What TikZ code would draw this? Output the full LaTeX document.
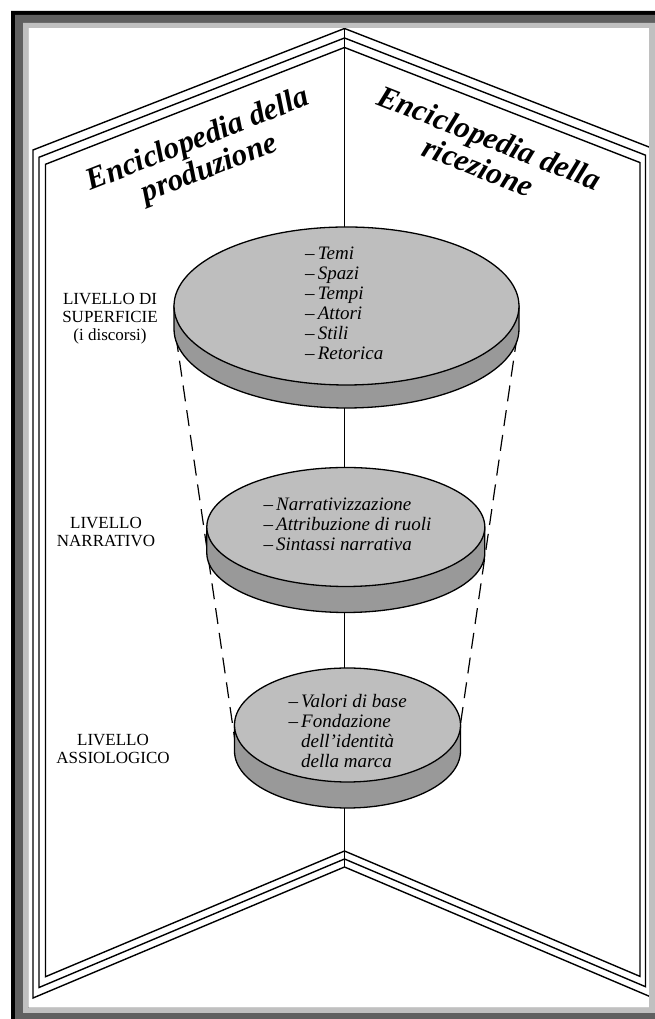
\documentclass[tikz,border=0pt]{standalone}
\usepackage{fontspec}
\setmainfont{Liberation Serif}
\definecolor{darkframe}{HTML}{606060}
\definecolor{lightframe}{HTML}{C0C0C0}
\definecolor{disctop}{HTML}{BEBEBE}
\definecolor{discband}{HTML}{999999}
\tikzset{
  panel/.style={line width=1.4pt, line join=miter},
  axisline/.style={line width=1.9pt},
  dashline/.style={line width=1.2pt, dash pattern=on 16pt off 9pt},
  discedge/.style={line width=1.3pt},
  titletext/.style={font=\fontsize{31}{31}\selectfont\bfseries\itshape, align=center, inner sep=0pt},
  leveltext/.style={font=\fontsize{17}{18}\selectfont, align=center, inner sep=0pt},
  disctext/.style={font=\fontsize{19}{20}\selectfont\itshape, align=left, inner sep=0pt, anchor=west},
}
\newcommand{\mydisc}[5]{%
  \filldraw[discedge, fill=discband] (#1-#4,#2) -- (#1-#4,#3)
    arc[start angle=180, end angle=360, x radius=#4pt, y radius=#5pt] -- (#1+#4,#2) -- cycle;
  \filldraw[discedge, fill=disctop] (#1,#2) ellipse [x radius=#4pt, y radius=#5pt];
}
\begin{document}
\begin{tikzpicture}[x=1pt,y=1pt]
\useasboundingbox (0,0) rectangle (655,1019);
\fill[white] (0,0) rectangle (655,1019);

% panel points
\coordinate (top0) at (344.5,990.5);
\coordinate (top1) at (344.5,981);
\coordinate (top2) at (344.5,971.5);
\coordinate (bot0) at (344.5,152);
\coordinate (bot1) at (344.5,160);
\coordinate (bot2) at (344.5,168);
\coordinate (lt0) at (33,869);
\coordinate (lt1) at (39,861.7);
\coordinate (lt2) at (45.5,854.7);
\coordinate (lb0) at (33,21);
\coordinate (lb1) at (39,31.5);
\coordinate (lb2) at (45.5,42.3);
\coordinate (rt0) at (651,871.2);
\coordinate (rt1) at (645.5,863.8);
\coordinate (rt2) at (640,856.4);
\coordinate (rb0) at (651,22);
\coordinate (rb1) at (645.5,32.3);
\coordinate (rb2) at (640,42.6);

\foreach \i in {0,1,2} {
  \draw[panel] (top\i) -- (lt\i) -- (lb\i) -- (bot\i);
  \draw[panel] (top\i) -- (rt\i) -- (rb\i) -- (bot\i);
}
\draw[axisline] (top0) -- (bot0);

% dashed cone
\coordinate (dla) at (175.9,683);
\coordinate (dlb) at (236.3,269);
\coordinate (dra) at (517.1,683);
\coordinate (drb) at (456.7,269);
\draw[dashline] (dla) -- (dlb);
\draw[dashline] (dra) -- (drb);

% discs
\mydisc{346.5}{713}{690}{172.5}{79}
\mydisc{345.8}{492}{466}{139}{59.5}
\mydisc{347.5}{294}{268}{113}{57}

% disc texts
\node[disctext] (t1) at (305,716) {–\,Temi\\–\,Spazi\\–\,Tempi\\–\,Attori\\–\,Stili\\–\,Retorica};
\node[disctext] (t2) at (263.3,495) {–\,Narrativizzazione\\–\,Attribuzione di ruoli\\–\,Sintassi narrativa};
\node[disctext] (t3) at (288.3,287.5) {–\,Valori di base\\–\,Fondazione\\\hphantom{–\,}dell’identità\\\hphantom{–\,}della marca};

% level labels
\node[leveltext] (l1) at (110,700) {LIVELLO DI\\SUPERFICIE\\(i discorsi)};
\node[leveltext] (l2) at (106,487) {LIVELLO\\NARRATIVO};
\node[leveltext] (l3) at (113,270.5) {LIVELLO\\ASSIOLOGICO};

% titles
\node[titletext, rotate=21.5] (tp) at (204,864) {Enciclopedia della\\produzione};
\node[titletext, rotate=-21.5] (tr) at (484,867) {Enciclopedia della\\ricezione};

% frame
\fill[black, even odd rule] (11,-30) rectangle (700,1008) (28,11) rectangle (649,991);
\fill[darkframe, even odd rule] (15,-30) rectangle (700,1004) (28,11) rectangle (649,991);
\fill[lightframe, even odd rule] (23,6) rectangle (700,996) (28,11) rectangle (649,991);
\end{tikzpicture}
\end{document}
